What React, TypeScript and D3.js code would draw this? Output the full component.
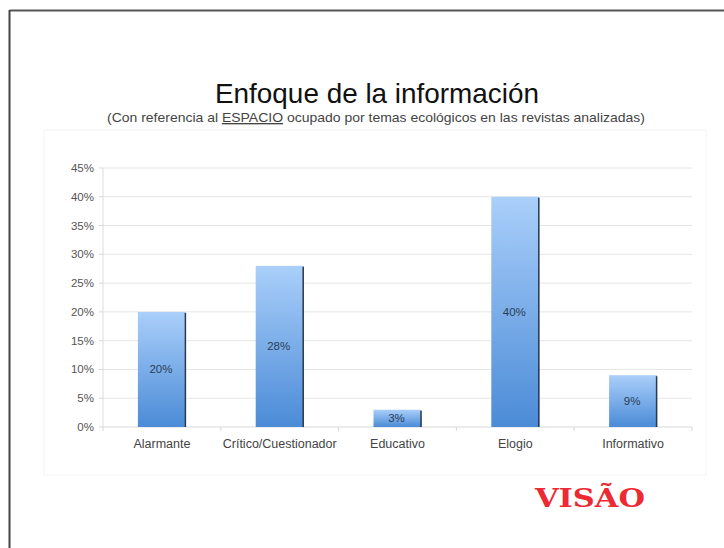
import React from "react";
import * as d3 from "d3";

const categories = ["Alarmante", "Crítico/Cuestionador", "Educativo", "Elogio", "Informativo"];
const values = [20, 28, 3, 40, 9];
const yTicks = [0, 5, 10, 15, 20, 25, 30, 35, 40, 45];

export default function App() {
  const W = 724, H = 548;
  const left = 103, right = 692, top = 168, bottom = 427;
  const x = d3.scaleBand<string>().domain(categories).range([left, right]).paddingInner(0).paddingOuter(0);
  const y = d3.scaleLinear().domain([0, 45]).range([bottom, top]);
  const barW = 48;
  const font = "Helvetica, 'Liberation Sans', Arial, sans-serif";
  return (
    <svg width={W} height={H} style={{ position: "absolute", left: 0, top: 0, background: "#fff" }}>
      <defs>
        <linearGradient id="barGrad" x1="0" y1="0" x2="0" y2="1">
          <stop offset="0%" stopColor="#aacffa" />
          <stop offset="100%" stopColor="#4b8bd7" />
        </linearGradient>
      </defs>
      <rect x={0} y={0} width={W} height={H} fill="#fff" />
      {/* slide border */}
      <line x1={9.5} y1={10.5} x2={W} y2={10.5} stroke="#555" strokeWidth={2} />
      <line x1={9.5} y1={10} x2={9.5} y2={H} stroke="#444" strokeWidth={2} />
      {/* faint panel */}
      <rect x={44} y={130} width={662} height={345} fill="none" stroke="#f4f4f4" strokeWidth={1} />
      <text x={377} y={103} textAnchor="middle" fontFamily={font} fontSize={28} fill="#111" textLength={324} lengthAdjust="spacingAndGlyphs">
        Enfoque de la información
      </text>
      <text x={376} y={122} textAnchor="middle" fontFamily={font} fontSize={13.5} fill="#444" textLength={538} lengthAdjust="spacingAndGlyphs">
        (Con referencia al <tspan textDecoration="underline">ESPACIO</tspan> ocupado por temas ecológicos en las revistas analizadas)
      </text>
      {/* gridlines */}
      {yTicks.map((t) => (
        <g key={t}>
          <line x1={left} x2={right} y1={y(t)} y2={y(t)} stroke={t === 0 ? "#d8d8d8" : "#e6e6e6"} strokeWidth={1} />
          <line x1={left - 4} x2={left} y1={y(t)} y2={y(t)} stroke="#d8d8d8" />
          <text x={94} y={y(t) + 4} textAnchor="end" fontFamily={font} fontSize={11.5} fill="#555">
            {t}%
          </text>
        </g>
      ))}
      <line x1={left} x2={left} y1={top} y2={bottom} stroke="#dcdcdc" />
      {categories.map((c, i) => (
        <line key={"tk" + i} x1={x(c)!} x2={x(c)!} y1={bottom} y2={bottom + 4} stroke="#d8d8d8" />
      ))}
      <line x1={right} x2={right} y1={bottom} y2={bottom + 4} stroke="#d8d8d8" />
      {categories.map((c, i) => {
        const cx = x(c)! + x.bandwidth() / 2;
        const yv = y(values[i]);
        return (
          <g key={c}>
            <rect x={cx - barW / 2} y={yv} width={barW} height={bottom - yv} fill="url(#barGrad)" />
            <line x1={cx + barW / 2 - 0.5} x2={cx + barW / 2 - 0.5} y1={yv + 1} y2={bottom} stroke="#2a3a4a" strokeWidth={1.5} />
            <text x={cx - 1} y={(yv + bottom) / 2 + 4} textAnchor="middle" fontFamily={font} fontSize={11.5} fill="#2b3d55">
              {values[i]}%
            </text>
            <text x={cx} y={448} textAnchor="middle" fontFamily={font} fontSize={12.5} fill="#444">
              {c}
            </text>
          </g>
        );
      })}
      <text x={590} y={507} textAnchor="middle" fontFamily="'DejaVu Serif', serif" fontWeight="bold" fontSize={26} fill="#ec2a33" textLength={110} lengthAdjust="spacingAndGlyphs">
        VISÃO
      </text>
    </svg>
  );
}
